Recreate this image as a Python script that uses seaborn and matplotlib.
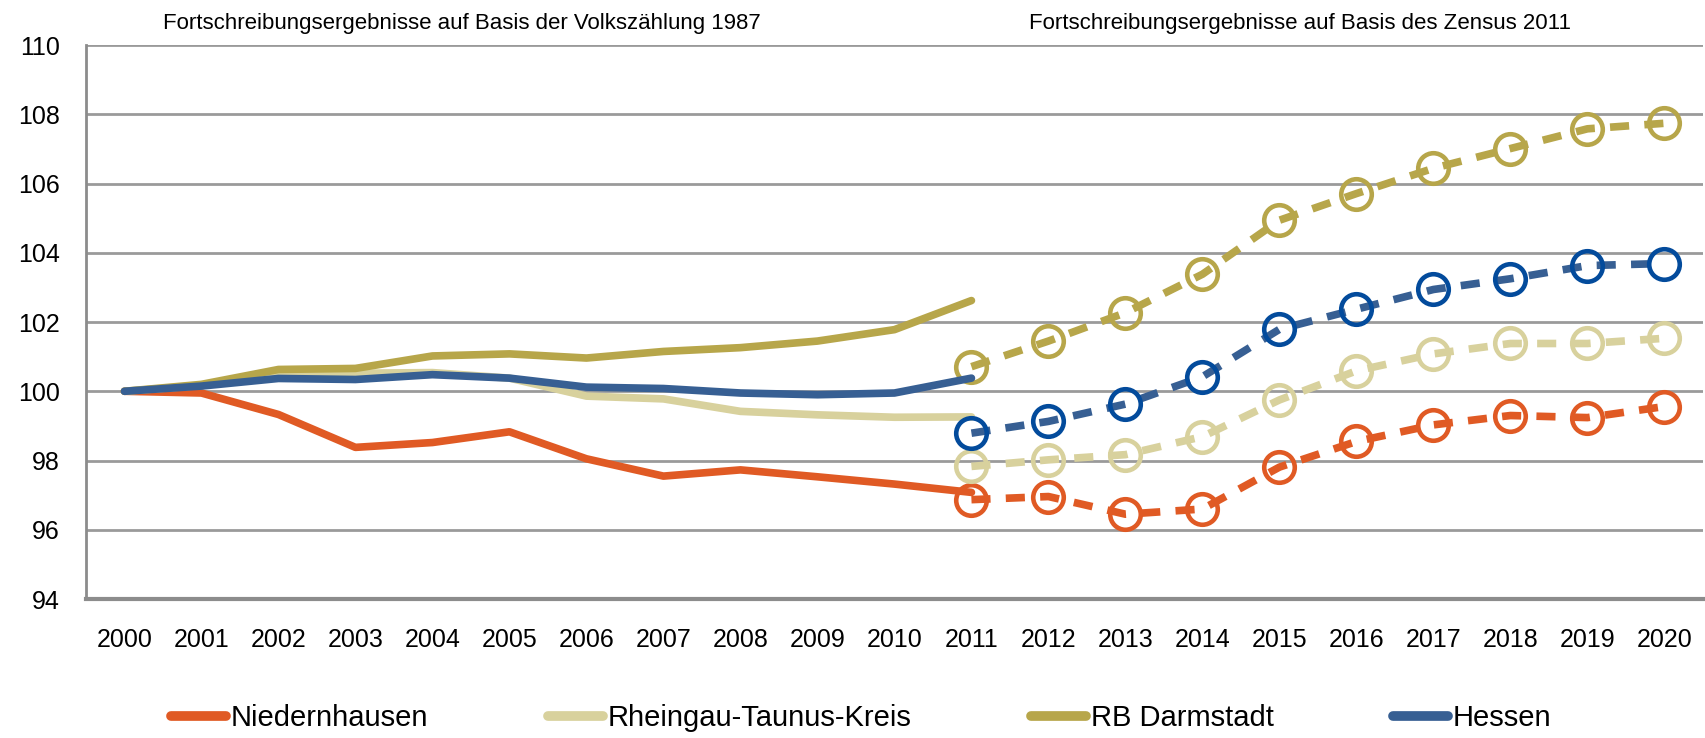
#%%
import numpy as np
import pandas as pd
import matplotlib
matplotlib.use('Agg')
import matplotlib.pyplot as plt
import seaborn as sns

sns.set_style('white')
plt.rcParams['font.family'] = ['Liberation Sans', 'DejaVu Sans']
plt.rcParams['text.color'] = 'black'

# Fortschreibung auf Basis Volkszählung 1987 (2000 = 100)
years_vz = [2000, 2001, 2002, 2003, 2004, 2005, 2006, 2007, 2008, 2009, 2010, 2011]
nied_vz = [100.0, 99.95, 99.33, 98.38, 98.52, 98.83, 98.05, 97.55, 97.73, 97.53, 97.32, 97.08]
rtk_vz = [100.0, 100.17, 100.45, 100.52, 100.54, 100.38, 99.86, 99.78, 99.42, 99.32, 99.25, 99.26]
rbd_vz = [100.0, 100.2, 100.63, 100.66, 101.02, 101.08, 100.96, 101.15, 101.26, 101.45, 101.78, 102.62]
hes_vz = [100.0, 100.15, 100.37, 100.34, 100.48, 100.38, 100.12, 100.08, 99.95, 99.9, 99.95, 100.38]

# Fortschreibung auf Basis Zensus 2011
years_z = [2011, 2012, 2013, 2014, 2015, 2016, 2017, 2018, 2019, 2020]
nied_z = [96.87, 96.96, 96.45, 96.6, 97.81, 98.55, 99.03, 99.3, 99.24, 99.56]
rtk_z = [97.83, 98.02, 98.17, 98.69, 99.75, 100.59, 101.08, 101.38, 101.38, 101.53]
rbd_z = [100.71, 101.45, 102.27, 103.38, 104.94, 105.71, 106.44, 107.01, 107.58, 107.74]
hes_z = [98.79, 99.13, 99.63, 100.42, 101.79, 102.37, 102.94, 103.25, 103.63, 103.69]

names = ['Niedernhausen', 'Rheingau-Taunus-Kreis', 'RB Darmstadt', 'Hessen']
vz_series = [nied_vz, rtk_vz, rbd_vz, hes_vz]
z_series = [nied_z, rtk_z, rbd_z, hes_z]
line_colors = ['#E05A24', '#D8D19D', '#B7A64A', '#375F93']
marker_colors = ['#E05A24', '#D8D19D', '#B7A64A', '#034B9C']
yticks = [94, 96, 98, 100, 102, 104, 106, 108, 110]
all_years = list(range(2000, 2021))

#%%
fig = plt.figure(figsize=(17.05, 7.38), dpi=100)
ax = fig.add_axes([0.0504, 0.1883, 0.9484, 0.7507])

for name, vz, z, lc, mc in zip(names, vz_series, z_series, line_colors, marker_colors):
    sns.lineplot(x=years_vz, y=vz, ax=ax, color=lc, lw=5.5, label=name,
                 solid_capstyle='round', solid_joinstyle='round')
    sns.lineplot(x=years_z, y=z, ax=ax, color=lc, lw=5.5, dashes=False,
                 linestyle=(0, (2.5, 2.0)), marker='o', markersize=22,
                 markerfacecolor='none', markeredgecolor=mc, markeredgewidth=3.3,
                 dash_capstyle='butt', legend=False)

handles, labels = ax.get_legend_handles_labels()
ax.get_legend().remove()

ax.set_xlim(1999.5, 2020.5)
ax.set_ylim(94, 110)
ax.set_yticks(yticks)
ax.set_xticks(all_years)
ax.set_xticklabels([str(y) for y in all_years])
ax.set_xticks(np.arange(1999.5, 2021, 1), minor=True)
ax.tick_params(axis='x', which='major', length=0, pad=21, labelsize=18, labelcolor='black')
ax.tick_params(axis='x', which='minor', length=7, width=2, color='#8C8C8C', direction='out')
ax.tick_params(axis='y', length=5, width=2, color='#8C8C8C', pad=14, labelsize=18,
               labelcolor='black', direction='out')
ax.yaxis.grid(True, color='#9A9A9A', lw=2)
ax.set_axisbelow(True)
for side in ['top', 'right']:
    ax.spines[side].set_visible(False)
ax.spines['left'].set_color('#8C8C8C')
ax.spines['left'].set_linewidth(2)
ax.spines['bottom'].set_color('#8C8C8C')
ax.spines['bottom'].set_linewidth(3)
ax.set_xlabel('')
ax.set_ylabel('')

fig.text(0.271, 1 - 24 / 738, 'Fortschreibungsergebnisse auf Basis der Volkszählung 1987',
         ha='center', va='center', fontsize=16)
fig.text(0.7625, 1 - 24 / 738, 'Fortschreibungsergebnisse auf Basis des Zensus 2011',
         ha='center', va='center', fontsize=16)

leg = fig.legend(handles, labels, loc='center', bbox_to_anchor=(0.505, 1 - 718 / 738),
                 ncol=4, frameon=False, fontsize=21, handlelength=1.9,
                 handletextpad=0.15, columnspacing=4.1)
for h in leg.get_lines():
    h.set_linewidth(7)
    h.set_solid_capstyle('round')

plt.savefig('out.png', dpi=100)
